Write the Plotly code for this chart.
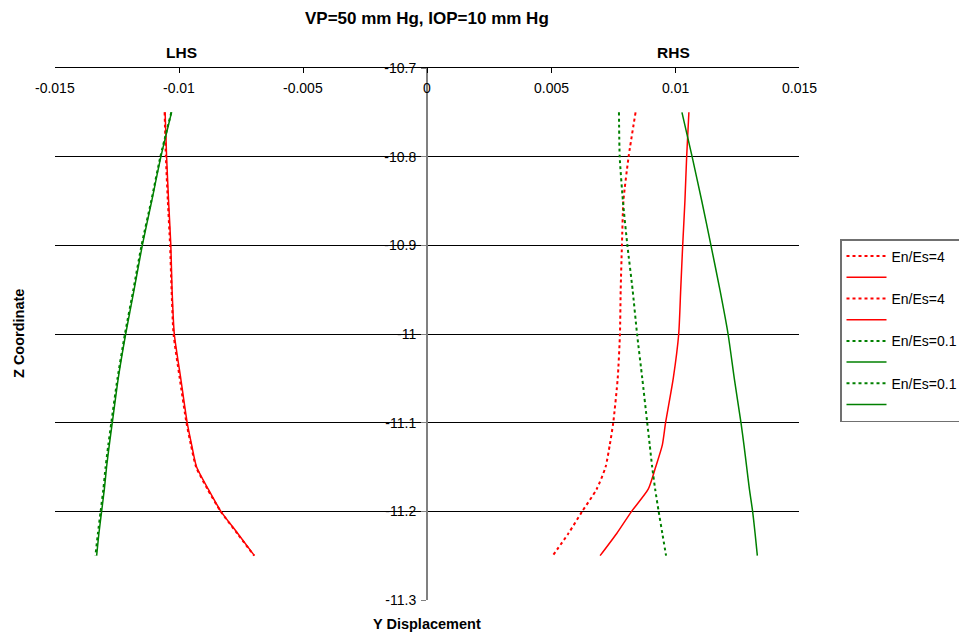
import plotly.graph_objects as go

z = [-10.75, -10.8, -10.85, -10.9, -10.95, -11.0, -11.05, -11.1,
     -11.125, -11.15, -11.175, -11.2, -11.225, -11.25]

lhs_red_dot = [-0.01058, -0.01053, -0.01045, -0.01036, -0.01030, -0.01022, -0.00997, -0.00970,
               -0.00952, -0.00931, -0.00885, -0.00832, -0.00765, -0.00697]
lhs_red_solid = [-0.01056, -0.01050, -0.01042, -0.01033, -0.01028, -0.01019, -0.00993, -0.00967,
                 -0.00949, -0.00929, -0.00882, -0.00831, -0.00763, -0.00696]
rhs_red_dot = [0.00841, 0.00813, 0.00792, 0.00786, 0.00781, 0.00778, 0.00769, 0.00751,
               0.00737, 0.00720, 0.00684, 0.00626, 0.00570, 0.00507]
rhs_red_solid = [0.01056, 0.01047, 0.01040, 0.01031, 0.01023, 0.01015, 0.00993, 0.00962,
                 0.00949, 0.00922, 0.00892, 0.00825, 0.00765, 0.00698]
lhs_green_dot = [-0.01031, -0.01075, -0.01112, -0.01151, -0.01184, -0.01218, -0.01248, -0.01273,
                 -0.01285, -0.01296, -0.01305, -0.01316, -0.01327, -0.01337]
lhs_green_solid = [-0.01030, -0.01073, -0.01110, -0.01148, -0.01181, -0.01215, -0.01245, -0.01269,
                   -0.01281, -0.01292, -0.01301, -0.01312, -0.01323, -0.01332]
rhs_green_dot = [0.00774, 0.00777, 0.00790, 0.00808, 0.00829, 0.00847, 0.00868, 0.00888,
                 0.00898, 0.00908, 0.00920, 0.00934, 0.00949, 0.00964]
rhs_green_solid = [0.01028, 0.01069, 0.01108, 0.01145, 0.01181, 0.01214, 0.01239, 0.01266,
                   0.01278, 0.01289, 0.01300, 0.01313, 0.01323, 0.01332]

x_ticks = [-0.015, -0.01, -0.005, 0, 0.005, 0.01, 0.015]
x_ticktext = ["-0.015", "-0.01", "-0.005", "0", "0.005", "0.01", "0.015"]
y_ticks = [-10.7, -10.8, -10.9, -11.0, -11.1, -11.2, -11.3]
y_ticktext = ["-10.7", "-10.8", "-10.9", "-11", "-11.1", "-11.2", "-11.3"]

RED = "#FF0000"
GREEN = "#008000"

series = [
    (lhs_red_dot, RED, "dot", "En/Es=4"),
    (lhs_red_solid, RED, "solid", " "),
    (rhs_red_dot, RED, "dot", "En/Es=4"),
    (rhs_red_solid, RED, "solid", " "),
    (lhs_green_dot, GREEN, "dot", "En/Es=0.1"),
    (lhs_green_solid, GREEN, "solid", " "),
    (rhs_green_dot, GREEN, "dot", "En/Es=0.1"),
    (rhs_green_solid, GREEN, "solid", " "),
]

fig = go.Figure()
for xs, col, dash, name in series:
    fig.add_trace(go.Scatter(
        x=xs, y=z, mode="lines", name=name,
        line=dict(color=col, dash=dash, width=2 if dash == "dot" else 1.5,
                  shape="spline", smoothing=0.6),
    ))

FONT = "Liberation Sans, Arial, sans-serif"

fig.update_layout(
    width=959, height=637,
    margin=dict(l=55, r=160, t=68, b=37, autoexpand=False),
    paper_bgcolor="white", plot_bgcolor="white",
    font=dict(family=FONT, size=14, color="black"),
    showlegend=True,
    legend=dict(
        x=(840 - 55) / 744, y=(600 - 239) / 532, xanchor="left", yanchor="top",
        bordercolor="#707070", borderwidth=1.5, bgcolor="white",
        font=dict(family=FONT, size=14, color="black"),
        tracegroupgap=0, itemwidth=40,
    ),
    xaxis=dict(
        range=[-0.015, 0.015], side="top",
        tickvals=x_ticks, showticklabels=False,
        ticks="inside", ticklen=5, tickcolor="black",
        showline=True, linecolor="black", linewidth=1,
        showgrid=False, zeroline=False,
    ),
    yaxis=dict(
        range=[-11.3, -10.7], anchor="free", position=0.5,
        tickvals=y_ticks, ticktext=y_ticktext,
        ticks="outside", ticklen=5, tickcolor="#808080",
        ticklabelstandoff=2,
        showline=True, linecolor="#808080", linewidth=2,
        showgrid=True, gridcolor="black", gridwidth=1,
        zeroline=False,
        tickfont=dict(family=FONT, size=14),
    ),
)

# x tick labels sit just below the top axis line
for tv, tt in zip(x_ticks, x_ticktext):
    fig.add_annotation(
        text=tt, xref="x", yref="paper", x=tv, y=(600 - 88) / 532,
        xanchor="center", yanchor="middle", showarrow=False,
        font=dict(family=FONT, size=14, color="black"),
    )

annotations = [
    dict(text="<b>VP=50 mm Hg, IOP=10 mm Hg</b>", x=427, y=18, size=17),
    dict(text="<b>LHS</b>", x=181, y=53, size=15.5),
    dict(text="<b>RHS</b>", x=673, y=53, size=15.5),
    dict(text="<b>Y Displacement</b>", x=427, y=624, size=14.5),
]
for a in annotations:
    fig.add_annotation(
        text=a["text"], xref="paper", yref="paper",
        x=(a["x"] - 55) / 744, y=(600 - a["y"]) / 532,
        xanchor="center", yanchor="middle", showarrow=False,
        font=dict(family=FONT, size=a["size"], color="black"),
    )
fig.add_annotation(
    text="<b>Z Coordinate</b>", xref="paper", yref="paper",
    x=(19 - 55) / 744, y=(600 - 334) / 532, textangle=-90,
    xanchor="center", yanchor="middle", showarrow=False,
    font=dict(family=FONT, size=14.5, color="black"),
)

fig.write_html("out.html")
